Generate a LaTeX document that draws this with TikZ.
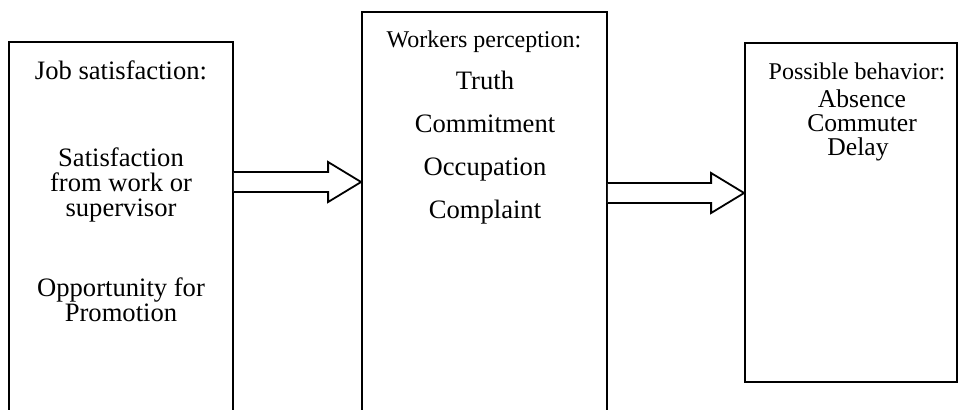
\documentclass[tikz,border=0pt]{standalone}
\usepackage{fontspec}
\setmainfont{Liberation Serif}
\usetikzlibrary{calc,fit}
\tikzset{
    panel/.style={draw, line width=0.9pt, inner sep=0pt},
    item/.style={anchor=base, inner sep=0pt, font=\fontsize{13.3}{15}\selectfont},
    tight/.style={item, font=\fontsize{12.8}{14}\selectfont, text height=0.7em, text depth=0.15em},
    head/.style={anchor=base, inner sep=0pt, font=\fontsize{12}{14}\selectfont},
    fatarrow/.style={draw, line width=0.9pt, fill=white, line join=miter}
}
% block arrow from #1 to the tip #2
\newcommand{\blockarrow}[2]{%
    \draw[fatarrow] ($(#1)+(0,-10)$) -- ($(#2)+(-33,-10)$) -- ($(#2)+(-33,-20)$) -- (#2)
        -- ($(#2)+(-33,20)$) -- ($(#2)+(-33,10)$) -- ($(#1)+(0,10)$);}
\begin{document}
\begin{tikzpicture}[x=0.5pt, y=-0.5pt]
    \useasboundingbox (0,0) rectangle (958,409);
    \clip (0,0) rectangle (958,409);
    % boxes
    \node[panel, fit={(9,42) (233,440)}] (jobbox) {};
    \node[panel, fit={(362,12) (607,440)}] (perbox) {};
    \node[panel, fit={(745,43) (957,382)}] (behbox) {};
    % job satisfaction
    \node[item] (jobhead) at (121,79) {Job satisfaction:};
    \node[item] (sat1) at (121,166) {Satisfaction};
    \node[item] (sat2) at (121,191) {from work or};
    \node[item] (sat3) at (121,216) {supervisor};
    \node[item] (opp1) at (121,296) {Opportunity for};
    \node[item] (opp2) at (121,321) {Promotion};
    % workers perception
    \node[head] (perhead) at (484,47) {Workers perception:};
    \node[item] (truth) at (485,89) {Truth};
    \node[item] (commit) at (485,132) {Commitment};
    \node[item] (occup) at (485,175) {Occupation};
    \node[item] (compl) at (485,218) {Complaint};
    % possible behavior
    \node[head] (behhead) at (857,79) {Possible behavior:};
    \node[tight] (absence) at (862,107) {Absence};
    \node[tight] (commuter) at (862,131) {Commuter};
    \node[tight] (delay) at (858,155) {Delay};
    % arrows
    \coordinate (a1s) at (jobbox.east |- 0,182);
    \coordinate (a1e) at (perbox.west |- 0,182);
    \coordinate (a2s) at (perbox.east |- 0,193);
    \coordinate (a2e) at (behbox.west |- 0,193);
    \blockarrow{a1s}{a1e}
    \blockarrow{a2s}{a2e}
\end{tikzpicture}
\end{document}
